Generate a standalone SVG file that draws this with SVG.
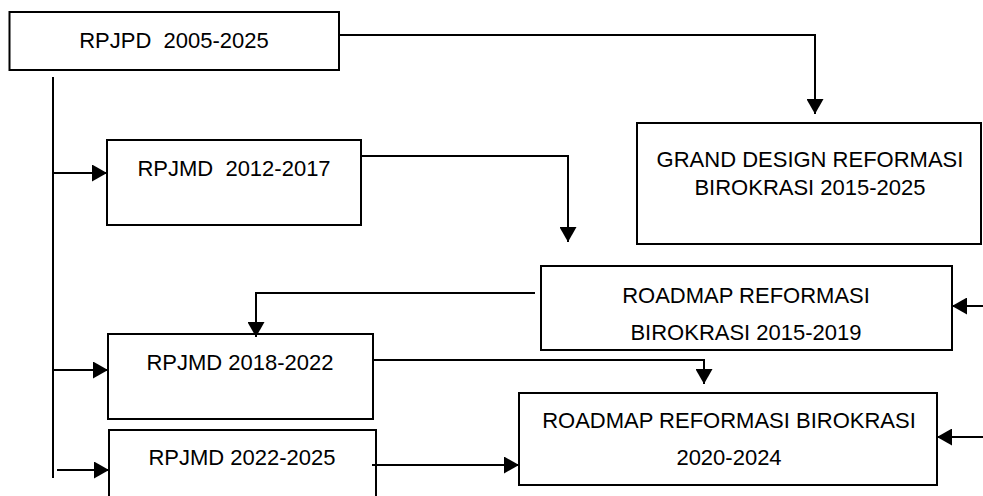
<svg xmlns="http://www.w3.org/2000/svg" width="983" height="496" viewBox="0 0 983 496">
<style>
.box{fill:#fff;stroke:#000;stroke-width:2}
.t{font-family:"Liberation Sans",Arial,sans-serif;font-size:22px;fill:#000;text-anchor:middle;white-space:pre}
.c{fill:none;stroke:#000;stroke-width:2}
</style>
<defs>
<marker id="ah" markerUnits="userSpaceOnUse" markerWidth="16" markerHeight="17" refX="15" refY="8.5" orient="auto">
<path d="M0,0 L15,8.5 L0,17 Z" fill="#000"/>
</marker>
</defs>
<rect width="983" height="496" fill="#fff"/>
<g id="n-rpjpd">
<rect class="box" x="9.5" y="12" width="329.5" height="58"/>
<text class="t" x="174" y="48" xml:space="preserve">RPJPD  2005-2025</text>
</g>
<g id="n-rpjmd1217">
<rect class="box" x="107" y="140" width="254" height="85"/>
<text class="t" x="234" y="176" xml:space="preserve">RPJMD  2012-2017</text>
</g>
<g id="n-grand">
<rect class="box" x="637" y="123" width="344" height="121"/>
<text class="t" x="810" y="167">GRAND DESIGN REFORMASI</text>
<text class="t" x="810" y="195">BIROKRASI 2015-2025</text>
</g>
<g id="n-roadmap1519">
<rect class="box" x="541" y="266" width="411" height="84"/>
<text class="t" x="746" y="303">ROADMAP REFORMASI</text>
<text class="t" x="746" y="340">BIROKRASI 2015-2019</text>
</g>
<g id="n-rpjmd1822">
<rect class="box" x="108" y="334" width="265" height="85"/>
<text class="t" x="240" y="370">RPJMD 2018-2022</text>
</g>
<g id="n-roadmap2024">
<rect class="box" x="519" y="393" width="418" height="92"/>
<text class="t" x="729" y="428">ROADMAP REFORMASI BIROKRASI</text>
<text class="t" x="729" y="465">2020-2024</text>
</g>
<g id="n-rpjmd2225">
<rect class="box" x="109" y="430" width="267" height="70"/>
<text class="t" x="242" y="465">RPJMD 2022-2025</text>
</g>
<g id="connectors">
<polyline class="c" points="339,35 815,35 815,114" marker-end="url(#ah)"/>
<line class="c" x1="53" y1="77" x2="53" y2="478"/>
<line class="c" x1="53" y1="173" x2="107" y2="173" marker-end="url(#ah)"/>
<line class="c" x1="53" y1="370" x2="108" y2="370" marker-end="url(#ah)"/>
<line class="c" x1="57" y1="470" x2="109" y2="470" marker-end="url(#ah)"/>
<polyline class="c" points="361,156 568,156 568,242" marker-end="url(#ah)"/>
<polyline class="c" points="535,293 256,293 256,337" marker-end="url(#ah)"/>
<line class="c" x1="983" y1="306" x2="952" y2="306" marker-end="url(#ah)"/>
<polyline class="c" points="373,360 704,360 704,384" marker-end="url(#ah)"/>
<line class="c" x1="372" y1="465" x2="519" y2="465" marker-end="url(#ah)"/>
<line class="c" x1="983" y1="437" x2="937" y2="437" marker-end="url(#ah)"/>
</g>
</svg>
